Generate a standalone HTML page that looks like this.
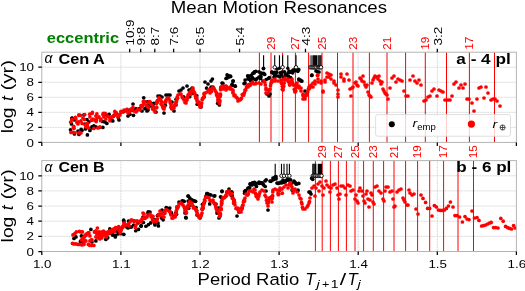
<!DOCTYPE html>
<html><head><meta charset="utf-8"><style>
html,body{margin:0;padding:0;background:#fff;}
body{width:525px;height:291px;overflow:hidden;font-family:"Liberation Sans", sans-serif;}
svg{display:block;will-change:transform;}
</style></head><body>
<svg width="525" height="291" viewBox="0 0 525 291" font-family='"Liberation Sans", sans-serif'>
<rect width="525" height="291" fill="#fff"/>
<text x="278.9" y="13.3" font-size="17" text-anchor="middle" textLength="216.16" lengthAdjust="spacingAndGlyphs">Mean Motion Resonances</text>
<text x="46.8" y="43.2" font-size="14" font-weight="bold" fill="#008000" textLength="72.25" lengthAdjust="spacingAndGlyphs">eccentric</text>
<path d="M41.8 127.37H516.4M41.8 112.33H516.4M41.8 97.3H516.4M41.8 82.27H516.4M41.8 67.23H516.4M120.9 52.2V142.4M200 52.2V142.4M279.1 52.2V142.4M358.2 52.2V142.4M437.3 52.2V142.4" stroke="#d4d4d4" stroke-width="1" stroke-dasharray="1 0.6" fill="none"/>
<path d="M259.4 52.2V142.4M271 52.2V142.4M282.6 52.2V142.4M295.4 52.2V142.4M308.6 52.2V142.4M322 52.2V142.4M337.5 52.2V142.4M353 52.2V142.4M369.4 52.2V142.4M387 52.2V142.4M405.6 52.2V142.4M425.3 52.2V142.4M446.5 52.2V142.4M469.4 52.2V142.4M494.5 52.2V142.4" stroke="#ff0000" stroke-width="1" fill="none"/>
<g fill="#000"><circle cx="71.98" cy="118.41" r="1.85"/><circle cx="83.93" cy="114.92" r="1.85"/><circle cx="71.98" cy="117.98" r="1.85"/><circle cx="71.48" cy="123.96" r="1.85"/><circle cx="74.47" cy="133.92" r="1.85"/><circle cx="78.95" cy="134.42" r="1.85"/><circle cx="81.94" cy="130.43" r="1.85"/><circle cx="85.42" cy="128.94" r="1.85"/><circle cx="87.41" cy="134.92" r="1.85"/><circle cx="89.9" cy="130.43" r="1.85"/><circle cx="86.92" cy="119.48" r="1.85"/><circle cx="91.9" cy="126.95" r="1.85"/><circle cx="93.89" cy="125.95" r="1.85"/><circle cx="95.88" cy="126.95" r="1.85"/><circle cx="102.85" cy="127.45" r="1.85"/><circle cx="104.84" cy="121.97" r="1.85"/><circle cx="106.84" cy="123.46" r="1.85"/><circle cx="110.82" cy="120.47" r="1.85"/><circle cx="112.81" cy="120.97" r="1.85"/><circle cx="119" cy="120" r="1.85"/><circle cx="128" cy="116" r="1.85"/><circle cx="133" cy="104" r="1.85"/><circle cx="136" cy="109" r="1.85"/><circle cx="142" cy="111" r="1.85"/><circle cx="147" cy="111" r="1.85"/><circle cx="148" cy="110" r="1.85"/><circle cx="153" cy="106" r="1.85"/><circle cx="156" cy="112" r="1.85"/><circle cx="158" cy="96" r="1.85"/><circle cx="160" cy="96" r="1.85"/><circle cx="162" cy="97" r="1.85"/><circle cx="164" cy="113" r="1.85"/><circle cx="166" cy="95" r="1.85"/><circle cx="168" cy="95" r="1.85"/><circle cx="170" cy="95" r="1.85"/><circle cx="172" cy="102" r="1.85"/><circle cx="174" cy="111" r="1.85"/><circle cx="176" cy="105" r="1.85"/><circle cx="179" cy="91" r="1.85"/><circle cx="181" cy="90" r="1.85"/><circle cx="183" cy="88" r="1.85"/><circle cx="187" cy="86" r="1.85"/><circle cx="189" cy="90" r="1.85"/><circle cx="190" cy="90" r="1.85"/><circle cx="192" cy="88" r="1.85"/><circle cx="201" cy="107" r="1.85"/><circle cx="205" cy="82" r="1.85"/><circle cx="208" cy="84" r="1.85"/><circle cx="211" cy="81" r="1.85"/><circle cx="212.4" cy="79" r="1.85"/><circle cx="213" cy="87" r="1.85"/><circle cx="219.4" cy="105" r="1.85"/><circle cx="222" cy="83" r="1.85"/><circle cx="227" cy="78" r="1.85"/><circle cx="228" cy="76" r="1.85"/><circle cx="229" cy="77" r="1.85"/><circle cx="230" cy="76" r="1.85"/><circle cx="233" cy="81" r="1.85"/><circle cx="235" cy="86" r="1.85"/><circle cx="245" cy="83" r="1.85"/><circle cx="248" cy="79" r="1.85"/><circle cx="249" cy="76" r="1.85"/><circle cx="251" cy="80" r="1.85"/><circle cx="254" cy="73" r="1.85"/><circle cx="259" cy="77" r="1.85"/><circle cx="261" cy="73" r="1.85"/><circle cx="263" cy="81" r="1.85"/><circle cx="263.4" cy="68.6" r="1.85"/><circle cx="267" cy="94" r="1.85"/><circle cx="269" cy="96" r="1.85"/><circle cx="270" cy="94" r="1.85"/><circle cx="272" cy="72" r="1.85"/><circle cx="274" cy="77" r="1.85"/><circle cx="275" cy="75" r="1.85"/><circle cx="277" cy="69" r="1.85"/><circle cx="278" cy="76" r="1.85"/><circle cx="280" cy="77" r="1.85"/><circle cx="282" cy="72" r="1.85"/><circle cx="284" cy="77" r="1.85"/><circle cx="286" cy="75" r="1.85"/><circle cx="288" cy="73" r="1.85"/><circle cx="289" cy="71" r="1.85"/><circle cx="291" cy="72" r="1.85"/><circle cx="293" cy="70" r="1.85"/><circle cx="295" cy="69" r="1.85"/><circle cx="299" cy="80" r="1.85"/><circle cx="301" cy="81" r="1.85"/><circle cx="305" cy="91" r="1.85"/><circle cx="306" cy="95" r="1.85"/><circle cx="307" cy="93" r="1.85"/><circle cx="312" cy="75" r="1.85"/><circle cx="316" cy="71" r="1.85"/><circle cx="319" cy="72" r="1.85"/><circle cx="197.19" cy="104.26" r="1.85"/><circle cx="231.81" cy="85.45" r="1.85"/><circle cx="150.38" cy="105.88" r="1.85"/><circle cx="147.39" cy="101.78" r="1.85"/><circle cx="183.64" cy="96.91" r="1.85"/><circle cx="196.82" cy="95.86" r="1.85"/><circle cx="217.71" cy="103.36" r="1.85"/><circle cx="143.73" cy="97.81" r="1.85"/><circle cx="171.14" cy="106.95" r="1.85"/><circle cx="165.24" cy="105.31" r="1.85"/><circle cx="192.85" cy="93.39" r="1.85"/><circle cx="176.06" cy="99.28" r="1.85"/><circle cx="145.93" cy="108.01" r="1.85"/><circle cx="189.7" cy="96.64" r="1.85"/><circle cx="129.87" cy="114.33" r="1.85"/><circle cx="222.94" cy="83.41" r="1.85"/><circle cx="204.02" cy="96.95" r="1.85"/><circle cx="206.56" cy="88.04" r="1.85"/><circle cx="132.6" cy="110.22" r="1.85"/><circle cx="211.16" cy="87.17" r="1.85"/><circle cx="227.1" cy="74.9" r="1.85"/><circle cx="228.6" cy="75.9" r="1.85"/><circle cx="230.7" cy="76.4" r="1.85"/><circle cx="226" cy="78.5" r="1.85"/><circle cx="233.2" cy="81.1" r="1.85"/><circle cx="232.2" cy="84.2" r="1.85"/><circle cx="235.3" cy="86.2" r="1.85"/><circle cx="245.1" cy="80" r="1.85"/><circle cx="244.1" cy="83.6" r="1.85"/><circle cx="247.7" cy="75.9" r="1.85"/><circle cx="248.7" cy="77.5" r="1.85"/><circle cx="249.7" cy="79.5" r="1.85"/><circle cx="250.8" cy="81.1" r="1.85"/><circle cx="251.3" cy="75.4" r="1.85"/><circle cx="252.8" cy="73.3" r="1.85"/><circle cx="254.4" cy="71.8" r="1.85"/><circle cx="255.9" cy="71.3" r="1.85"/><circle cx="252.3" cy="77.5" r="1.85"/><circle cx="253.9" cy="79" r="1.85"/><circle cx="255.9" cy="80" r="1.85"/><circle cx="257" cy="78.5" r="1.85"/><circle cx="259" cy="71.8" r="1.85"/><circle cx="261.6" cy="73.3" r="1.85"/><circle cx="263.7" cy="73.3" r="1.85"/><circle cx="264.7" cy="74.4" r="1.85"/><circle cx="261" cy="76.4" r="1.85"/><circle cx="260.6" cy="78.5" r="1.85"/><circle cx="266.2" cy="79.5" r="1.85"/><circle cx="268.3" cy="78.5" r="1.85"/><circle cx="269.3" cy="77.5" r="1.85"/><circle cx="271.9" cy="72.3" r="1.85"/><circle cx="273.5" cy="73.3" r="1.85"/><circle cx="275.5" cy="75.4" r="1.85"/><circle cx="274.6" cy="72.3" r="1.85"/><circle cx="276.6" cy="72.3" r="1.85"/><circle cx="275.6" cy="75.9" r="1.85"/><circle cx="280.2" cy="72.8" r="1.85"/><circle cx="281.3" cy="74.9" r="1.85"/><circle cx="284.4" cy="71.8" r="1.85"/><circle cx="285.4" cy="74.4" r="1.85"/><circle cx="286.4" cy="75.4" r="1.85"/><circle cx="289.5" cy="72.3" r="1.85"/><circle cx="291" cy="71.8" r="1.85"/><circle cx="292.6" cy="71.3" r="1.85"/><circle cx="294.2" cy="70.8" r="1.85"/><circle cx="295.7" cy="70.2" r="1.85"/><circle cx="297.3" cy="69.7" r="1.85"/><circle cx="298.8" cy="69.7" r="1.85"/><circle cx="292.6" cy="72.8" r="1.85"/><circle cx="297.8" cy="71.3" r="1.85"/><circle cx="288.5" cy="76.4" r="1.85"/><circle cx="290.6" cy="77.5" r="1.85"/><circle cx="298.8" cy="79" r="1.85"/><circle cx="300.4" cy="80" r="1.85"/><circle cx="301.9" cy="81.1" r="1.85"/><circle cx="311.7" cy="75.4" r="1.85"/><circle cx="317.4" cy="71.8" r="1.85"/><circle cx="70.52" cy="129.77" r="1.85"/><circle cx="74.55" cy="119.9" r="1.85"/><circle cx="77.97" cy="131.1" r="1.85"/><circle cx="81.11" cy="129.25" r="1.85"/><circle cx="84.93" cy="124.01" r="1.85"/><circle cx="88.83" cy="121.95" r="1.85"/><circle cx="92.01" cy="127.82" r="1.85"/><circle cx="95.98" cy="120.52" r="1.85"/><circle cx="99.33" cy="127.52" r="1.85"/><circle cx="102.64" cy="121.47" r="1.85"/><circle cx="105.85" cy="114.55" r="1.85"/><circle cx="109.13" cy="114.27" r="1.85"/><circle cx="113.24" cy="116.31" r="1.85"/><circle cx="116.16" cy="113.16" r="1.85"/><circle cx="118.34" cy="117.83" r="1.85"/><circle cx="121.17" cy="111.95" r="1.85"/><circle cx="123.74" cy="111.47" r="1.85"/><circle cx="126.96" cy="109.72" r="1.85"/><circle cx="129.95" cy="110.04" r="1.85"/><circle cx="133.46" cy="115.36" r="1.85"/><circle cx="136.05" cy="108.73" r="1.85"/><circle cx="139.47" cy="108.67" r="1.85"/><circle cx="141.86" cy="105.51" r="1.85"/><circle cx="144.88" cy="108.67" r="1.85"/><circle cx="148" cy="105.69" r="1.85"/><circle cx="151" cy="103.29" r="1.85"/><circle cx="153.76" cy="103.28" r="1.85"/><circle cx="156.9" cy="102.12" r="1.85"/></g>
<g fill="#ff0000"><circle cx="78.95" cy="114.92" r="1.85"/><circle cx="92.39" cy="112.43" r="1.85"/><circle cx="96.88" cy="113.92" r="1.85"/><circle cx="103.35" cy="113.43" r="1.85"/><circle cx="114.8" cy="111.43" r="1.85"/><circle cx="71.98" cy="119.4" r="1.85"/><circle cx="70.98" cy="132.43" r="1.85"/><circle cx="72.97" cy="132.43" r="1.85"/><circle cx="74.96" cy="132.73" r="1.85"/><circle cx="78.95" cy="132.92" r="1.85"/><circle cx="80.94" cy="132.92" r="1.85"/><circle cx="71.98" cy="119.98" r="1.85"/><circle cx="73.47" cy="127.45" r="1.85"/><circle cx="73.97" cy="128.44" r="1.85"/><circle cx="75.96" cy="118.98" r="1.85"/><circle cx="76.96" cy="122.47" r="1.85"/><circle cx="77.95" cy="123.96" r="1.85"/><circle cx="78.95" cy="115.49" r="1.85"/><circle cx="80.94" cy="120.97" r="1.85"/><circle cx="82.93" cy="117.98" r="1.85"/><circle cx="84.43" cy="119.48" r="1.85"/><circle cx="85.42" cy="124.96" r="1.85"/><circle cx="85.92" cy="126.95" r="1.85"/><circle cx="87.41" cy="125.95" r="1.85"/><circle cx="88.41" cy="127.94" r="1.85"/><circle cx="89.9" cy="116.99" r="1.85"/><circle cx="91.4" cy="120.47" r="1.85"/><circle cx="92.89" cy="118.98" r="1.85"/><circle cx="93.89" cy="128.44" r="1.85"/><circle cx="95.88" cy="115.99" r="1.85"/><circle cx="96.88" cy="118.48" r="1.85"/><circle cx="97.87" cy="127.94" r="1.85"/><circle cx="99.86" cy="126.95" r="1.85"/><circle cx="100.86" cy="118.98" r="1.85"/><circle cx="103.85" cy="116.99" r="1.85"/><circle cx="105.84" cy="118.98" r="1.85"/><circle cx="107.83" cy="115.99" r="1.85"/><circle cx="109.82" cy="117.98" r="1.85"/><circle cx="111.82" cy="116.99" r="1.85"/><circle cx="113.81" cy="115.49" r="1.85"/><circle cx="115.8" cy="115" r="1.85"/><circle cx="313" cy="83" r="1.85"/><circle cx="313" cy="87" r="1.85"/><circle cx="315" cy="81" r="1.85"/><circle cx="315" cy="84" r="1.85"/><circle cx="318" cy="75" r="1.85"/><circle cx="318" cy="79" r="1.85"/><circle cx="318" cy="82" r="1.85"/><circle cx="321" cy="81" r="1.85"/><circle cx="321" cy="83" r="1.85"/><circle cx="323" cy="91" r="1.85"/><circle cx="323" cy="92" r="1.85"/><circle cx="325" cy="80" r="1.85"/><circle cx="325" cy="82" r="1.85"/><circle cx="327" cy="73" r="1.85"/><circle cx="327" cy="77" r="1.85"/><circle cx="329" cy="74" r="1.85"/><circle cx="329" cy="77" r="1.85"/><circle cx="331" cy="75" r="1.85"/><circle cx="331" cy="79" r="1.85"/><circle cx="334" cy="81" r="1.85"/><circle cx="334" cy="83" r="1.85"/><circle cx="336" cy="85" r="1.85"/><circle cx="338" cy="90" r="1.85"/><circle cx="338" cy="94" r="1.85"/><circle cx="338" cy="97" r="1.85"/><circle cx="341" cy="74" r="1.85"/><circle cx="341" cy="77" r="1.85"/><circle cx="344" cy="79" r="1.85"/><circle cx="344" cy="81" r="1.85"/><circle cx="347" cy="74" r="1.85"/><circle cx="349" cy="80" r="1.85"/><circle cx="350" cy="89" r="1.85"/><circle cx="351" cy="96" r="1.85"/><circle cx="352" cy="88" r="1.85"/><circle cx="353" cy="87" r="1.85"/><circle cx="355" cy="83" r="1.85"/><circle cx="356" cy="82" r="1.85"/><circle cx="357" cy="85" r="1.85"/><circle cx="358" cy="86" r="1.85"/><circle cx="360" cy="78" r="1.85"/><circle cx="361" cy="79" r="1.85"/><circle cx="362" cy="81" r="1.85"/><circle cx="363" cy="76" r="1.85"/><circle cx="364" cy="82" r="1.85"/><circle cx="365" cy="85" r="1.85"/><circle cx="366" cy="87" r="1.85"/><circle cx="367" cy="85" r="1.85"/><circle cx="368" cy="92" r="1.85"/><circle cx="369" cy="95" r="1.85"/><circle cx="370" cy="96" r="1.85"/><circle cx="371" cy="97" r="1.85"/><circle cx="372" cy="83" r="1.85"/><circle cx="373" cy="80" r="1.85"/><circle cx="374" cy="78" r="1.85"/><circle cx="375" cy="76" r="1.85"/><circle cx="377" cy="77" r="1.85"/><circle cx="378" cy="79" r="1.85"/><circle cx="379" cy="76" r="1.85"/><circle cx="380" cy="81" r="1.85"/><circle cx="381" cy="84" r="1.85"/><circle cx="382" cy="82" r="1.85"/><circle cx="383" cy="89" r="1.85"/><circle cx="384" cy="91" r="1.85"/><circle cx="385" cy="93" r="1.85"/><circle cx="386" cy="94" r="1.85"/><circle cx="387" cy="95" r="1.85"/><circle cx="388" cy="99" r="1.85"/><circle cx="390" cy="88" r="1.85"/><circle cx="392" cy="78" r="1.85"/><circle cx="394" cy="76" r="1.85"/><circle cx="396" cy="82" r="1.85"/><circle cx="398" cy="79" r="1.85"/><circle cx="400" cy="80" r="1.85"/><circle cx="402" cy="81" r="1.85"/><circle cx="404" cy="91" r="1.85"/><circle cx="406" cy="96" r="1.85"/><circle cx="408" cy="96" r="1.85"/><circle cx="410" cy="80" r="1.85"/><circle cx="413" cy="76" r="1.85"/><circle cx="415" cy="81" r="1.85"/><circle cx="417" cy="83" r="1.85"/><circle cx="419" cy="80" r="1.85"/><circle cx="421" cy="85" r="1.85"/><circle cx="424" cy="101" r="1.85"/><circle cx="426" cy="100" r="1.85"/><circle cx="428" cy="97" r="1.85"/><circle cx="430" cy="96" r="1.85"/><circle cx="432" cy="91" r="1.85"/><circle cx="434" cy="89" r="1.85"/><circle cx="437" cy="96" r="1.85"/><circle cx="439" cy="90" r="1.85"/><circle cx="441" cy="91" r="1.85"/><circle cx="443" cy="92" r="1.85"/><circle cx="445" cy="100" r="1.85"/><circle cx="448" cy="100" r="1.85"/><circle cx="450" cy="100" r="1.85"/><circle cx="452" cy="96" r="1.85"/><circle cx="454" cy="84" r="1.85"/><circle cx="456" cy="82" r="1.85"/><circle cx="459" cy="88" r="1.85"/><circle cx="461" cy="85" r="1.85"/><circle cx="463" cy="88" r="1.85"/><circle cx="465" cy="84" r="1.85"/><circle cx="467" cy="99" r="1.85"/><circle cx="469" cy="99" r="1.85"/><circle cx="472" cy="103" r="1.85"/><circle cx="474" cy="111" r="1.85"/><circle cx="477" cy="99" r="1.85"/><circle cx="479" cy="88" r="1.85"/><circle cx="481" cy="87" r="1.85"/><circle cx="484" cy="98" r="1.85"/><circle cx="486" cy="87" r="1.85"/><circle cx="488" cy="93" r="1.85"/><circle cx="491" cy="100" r="1.85"/><circle cx="493" cy="99" r="1.85"/><circle cx="495" cy="99" r="1.85"/><circle cx="497" cy="101" r="1.85"/><circle cx="500" cy="106" r="1.85"/><circle cx="118" cy="117" r="1.85"/><circle cx="120" cy="115" r="1.85"/><circle cx="122" cy="112" r="1.85"/><circle cx="124" cy="110" r="1.85"/><circle cx="126" cy="111" r="1.85"/><circle cx="128" cy="113" r="1.85"/><circle cx="130" cy="111" r="1.85"/><circle cx="132" cy="109" r="1.85"/><circle cx="134" cy="111" r="1.85"/><circle cx="136" cy="112" r="1.85"/><circle cx="138" cy="109" r="1.85"/><circle cx="140" cy="110" r="1.85"/><circle cx="142" cy="107" r="1.85"/><circle cx="144" cy="103" r="1.85"/><circle cx="146" cy="105" r="1.85"/><circle cx="148" cy="107" r="1.85"/><circle cx="150" cy="102" r="1.85"/><circle cx="152" cy="105" r="1.85"/><circle cx="154" cy="110" r="1.85"/><circle cx="156" cy="108" r="1.85"/><circle cx="158" cy="101" r="1.85"/><circle cx="160" cy="99" r="1.85"/><circle cx="162" cy="105" r="1.85"/><circle cx="164" cy="109" r="1.85"/><circle cx="166" cy="100" r="1.85"/><circle cx="168" cy="98" r="1.85"/><circle cx="170" cy="101" r="1.85"/><circle cx="172" cy="109" r="1.85"/><circle cx="174" cy="108" r="1.85"/><circle cx="176" cy="102" r="1.85"/><circle cx="178" cy="95" r="1.85"/><circle cx="180" cy="94" r="1.85"/><circle cx="182" cy="97" r="1.85"/><circle cx="184" cy="100" r="1.85"/><circle cx="186" cy="103" r="1.85"/><circle cx="188" cy="95" r="1.85"/><circle cx="190" cy="92" r="1.85"/><circle cx="190" cy="94" r="1.85"/><circle cx="193" cy="88" r="1.85"/><circle cx="193" cy="90" r="1.85"/><circle cx="195" cy="94" r="1.85"/><circle cx="197" cy="99" r="1.85"/><circle cx="197" cy="101" r="1.85"/><circle cx="200" cy="105" r="1.85"/><circle cx="200" cy="107" r="1.85"/><circle cx="203" cy="98" r="1.85"/><circle cx="205" cy="93" r="1.85"/><circle cx="207" cy="92" r="1.85"/><circle cx="210" cy="90" r="1.85"/><circle cx="210" cy="93" r="1.85"/><circle cx="213" cy="88" r="1.85"/><circle cx="216" cy="92" r="1.85"/><circle cx="218" cy="98" r="1.85"/><circle cx="218" cy="101" r="1.85"/><circle cx="219.4" cy="103" r="1.85"/><circle cx="221" cy="87" r="1.85"/><circle cx="223" cy="86" r="1.85"/><circle cx="223" cy="89" r="1.85"/><circle cx="226" cy="86" r="1.85"/><circle cx="226" cy="90" r="1.85"/><circle cx="228" cy="88" r="1.85"/><circle cx="230" cy="87" r="1.85"/><circle cx="230" cy="89" r="1.85"/><circle cx="233" cy="90" r="1.85"/><circle cx="233" cy="93" r="1.85"/><circle cx="235" cy="95" r="1.85"/><circle cx="238" cy="99" r="1.85"/><circle cx="238" cy="101" r="1.85"/><circle cx="240" cy="100" r="1.85"/><circle cx="243" cy="95" r="1.85"/><circle cx="245" cy="90" r="1.85"/><circle cx="248" cy="85" r="1.85"/><circle cx="248" cy="87" r="1.85"/><circle cx="251" cy="84" r="1.85"/><circle cx="254" cy="84" r="1.85"/><circle cx="256" cy="83.6" r="1.85"/><circle cx="119" cy="114.93" r="1.85"/><circle cx="121" cy="111.38" r="1.85"/><circle cx="123" cy="111.92" r="1.85"/><circle cx="127" cy="109.4" r="1.85"/><circle cx="129" cy="112.22" r="1.85"/><circle cx="131" cy="109.18" r="1.85"/><circle cx="133" cy="107.31" r="1.85"/><circle cx="137" cy="110.55" r="1.85"/><circle cx="141" cy="105.69" r="1.85"/><circle cx="142.67" cy="105.26" r="1.85"/><circle cx="143.33" cy="101.72" r="1.85"/><circle cx="145" cy="101.51" r="1.85"/><circle cx="147" cy="105.54" r="1.85"/><circle cx="148.5" cy="107.74" r="1.85"/><circle cx="149" cy="102.21" r="1.85"/><circle cx="149.5" cy="101.57" r="1.85"/><circle cx="151" cy="104.27" r="1.85"/><circle cx="152.5" cy="108.97" r="1.85"/><circle cx="153" cy="107.97" r="1.85"/><circle cx="153.5" cy="108.12" r="1.85"/><circle cx="155" cy="111.9" r="1.85"/><circle cx="156.4" cy="103.84" r="1.85"/><circle cx="156.8" cy="107.38" r="1.85"/><circle cx="157.2" cy="102.52" r="1.85"/><circle cx="157.6" cy="100.24" r="1.85"/><circle cx="159" cy="97.68" r="1.85"/><circle cx="160.5" cy="99.34" r="1.85"/><circle cx="161" cy="103.92" r="1.85"/><circle cx="161.5" cy="101.56" r="1.85"/><circle cx="162.67" cy="106.83" r="1.85"/><circle cx="163.33" cy="108.51" r="1.85"/><circle cx="164.29" cy="106.94" r="1.85"/><circle cx="164.57" cy="106.72" r="1.85"/><circle cx="164.86" cy="102.48" r="1.85"/><circle cx="165.14" cy="102.18" r="1.85"/><circle cx="165.43" cy="101.45" r="1.85"/><circle cx="165.71" cy="101.97" r="1.85"/><circle cx="167" cy="98.72" r="1.85"/><circle cx="169" cy="98.79" r="1.85"/><circle cx="170.33" cy="102.66" r="1.85"/><circle cx="170.67" cy="103.49" r="1.85"/><circle cx="171" cy="104.24" r="1.85"/><circle cx="171.33" cy="107.45" r="1.85"/><circle cx="171.67" cy="108.42" r="1.85"/><circle cx="174.5" cy="105.53" r="1.85"/><circle cx="175" cy="105.28" r="1.85"/><circle cx="175.5" cy="103.6" r="1.85"/><circle cx="176.4" cy="102.03" r="1.85"/><circle cx="176.8" cy="100.07" r="1.85"/><circle cx="177.2" cy="96.99" r="1.85"/><circle cx="177.6" cy="98.22" r="1.85"/><circle cx="181" cy="94.05" r="1.85"/><circle cx="183" cy="98.19" r="1.85"/><circle cx="185" cy="102.48" r="1.85"/><circle cx="186.33" cy="100.34" r="1.85"/><circle cx="186.67" cy="100.29" r="1.85"/><circle cx="187" cy="97.25" r="1.85"/><circle cx="187.33" cy="98.31" r="1.85"/><circle cx="187.67" cy="97.34" r="1.85"/><circle cx="189" cy="93.78" r="1.85"/><circle cx="190.6" cy="94.23" r="1.85"/><circle cx="191.2" cy="90.89" r="1.85"/><circle cx="191.8" cy="91.14" r="1.85"/><circle cx="192.4" cy="89.56" r="1.85"/><circle cx="193.67" cy="91.64" r="1.85"/><circle cx="194.33" cy="92.5" r="1.85"/><circle cx="195.5" cy="96.54" r="1.85"/><circle cx="196" cy="98.19" r="1.85"/><circle cx="196.5" cy="97.65" r="1.85"/><circle cx="198" cy="102.96" r="1.85"/><circle cx="199" cy="102" r="1.85"/><circle cx="200.43" cy="106.48" r="1.85"/><circle cx="200.86" cy="104.99" r="1.85"/><circle cx="201.29" cy="105.02" r="1.85"/><circle cx="201.71" cy="103.08" r="1.85"/><circle cx="202.14" cy="99.75" r="1.85"/><circle cx="202.57" cy="98.85" r="1.85"/><circle cx="203.5" cy="97.39" r="1.85"/><circle cx="204" cy="93.69" r="1.85"/><circle cx="204.5" cy="94.1" r="1.85"/><circle cx="208.5" cy="89.74" r="1.85"/><circle cx="210" cy="90.04" r="1.85"/><circle cx="210.75" cy="90.07" r="1.85"/><circle cx="211.5" cy="91.52" r="1.85"/><circle cx="212.25" cy="87.84" r="1.85"/><circle cx="214" cy="88.37" r="1.85"/><circle cx="215" cy="90.25" r="1.85"/><circle cx="216.5" cy="94.91" r="1.85"/><circle cx="217" cy="93.41" r="1.85"/><circle cx="217.5" cy="96.31" r="1.85"/><circle cx="218" cy="99.69" r="1.85"/><circle cx="219.53" cy="103.12" r="1.85"/><circle cx="219.67" cy="101.55" r="1.85"/><circle cx="219.8" cy="100.38" r="1.85"/><circle cx="219.93" cy="96.82" r="1.85"/><circle cx="220.07" cy="96.01" r="1.85"/><circle cx="220.2" cy="94.46" r="1.85"/><circle cx="220.33" cy="95.13" r="1.85"/><circle cx="220.47" cy="94.07" r="1.85"/><circle cx="220.6" cy="89.67" r="1.85"/><circle cx="220.73" cy="88.44" r="1.85"/><circle cx="220.87" cy="87.31" r="1.85"/><circle cx="223" cy="86.49" r="1.85"/><circle cx="224" cy="87.94" r="1.85"/><circle cx="225" cy="87.34" r="1.85"/><circle cx="226" cy="86.43" r="1.85"/><circle cx="226" cy="86.78" r="1.85"/><circle cx="227" cy="88.69" r="1.85"/><circle cx="231.5" cy="89" r="1.85"/><circle cx="233" cy="91.75" r="1.85"/><circle cx="234" cy="95.72" r="1.85"/><circle cx="236" cy="97.06" r="1.85"/><circle cx="237" cy="97.73" r="1.85"/><circle cx="240.75" cy="99.2" r="1.85"/><circle cx="241.5" cy="98.17" r="1.85"/><circle cx="242.25" cy="94.56" r="1.85"/><circle cx="243.5" cy="95.27" r="1.85"/><circle cx="244" cy="93.56" r="1.85"/><circle cx="244.5" cy="92.67" r="1.85"/><circle cx="245.75" cy="89.88" r="1.85"/><circle cx="246.5" cy="87.09" r="1.85"/><circle cx="247.25" cy="85.87" r="1.85"/><circle cx="249" cy="84.49" r="1.85"/><circle cx="250" cy="85.51" r="1.85"/><circle cx="252.5" cy="82.34" r="1.85"/><circle cx="259" cy="83" r="1.85"/><circle cx="261" cy="84" r="1.85"/><circle cx="264" cy="81" r="1.85"/><circle cx="266" cy="88" r="1.85"/><circle cx="266" cy="93" r="1.85"/><circle cx="268" cy="90" r="1.85"/><circle cx="268" cy="93" r="1.85"/><circle cx="270" cy="89" r="1.85"/><circle cx="272" cy="80" r="1.85"/><circle cx="272" cy="82" r="1.85"/><circle cx="275" cy="79" r="1.85"/><circle cx="275" cy="81" r="1.85"/><circle cx="278" cy="81" r="1.85"/><circle cx="281" cy="80" r="1.85"/><circle cx="281" cy="82" r="1.85"/><circle cx="283" cy="89" r="1.85"/><circle cx="283" cy="90" r="1.85"/><circle cx="285" cy="78" r="1.85"/><circle cx="285" cy="80" r="1.85"/><circle cx="288" cy="79" r="1.85"/><circle cx="288" cy="81" r="1.85"/><circle cx="290" cy="85" r="1.85"/><circle cx="292" cy="79" r="1.85"/><circle cx="292" cy="81" r="1.85"/><circle cx="295" cy="91" r="1.85"/><circle cx="295" cy="92" r="1.85"/><circle cx="297" cy="83" r="1.85"/><circle cx="299" cy="86" r="1.85"/><circle cx="299" cy="88" r="1.85"/><circle cx="301" cy="88" r="1.85"/><circle cx="301" cy="91" r="1.85"/><circle cx="303" cy="94" r="1.85"/><circle cx="303" cy="99" r="1.85"/><circle cx="304" cy="97" r="1.85"/><circle cx="305" cy="97" r="1.85"/><circle cx="305" cy="99" r="1.85"/><circle cx="307" cy="93" r="1.85"/><circle cx="307" cy="95" r="1.85"/><circle cx="309" cy="87" r="1.85"/><circle cx="309" cy="89" r="1.85"/><circle cx="311" cy="85" r="1.85"/><circle cx="311" cy="86" r="1.85"/><circle cx="264.67" cy="82.29" r="1.85"/><circle cx="265.33" cy="84.97" r="1.85"/><circle cx="266" cy="89.69" r="1.85"/><circle cx="269" cy="90.62" r="1.85"/><circle cx="270.5" cy="85.68" r="1.85"/><circle cx="271" cy="83.3" r="1.85"/><circle cx="271.5" cy="81.41" r="1.85"/><circle cx="281.67" cy="83.38" r="1.85"/><circle cx="282.33" cy="86.34" r="1.85"/><circle cx="283.4" cy="86.46" r="1.85"/><circle cx="283.8" cy="86.1" r="1.85"/><circle cx="284.2" cy="83.07" r="1.85"/><circle cx="284.6" cy="79.56" r="1.85"/><circle cx="289" cy="82.41" r="1.85"/><circle cx="291" cy="81.63" r="1.85"/><circle cx="292.75" cy="83.17" r="1.85"/><circle cx="293.5" cy="85.09" r="1.85"/><circle cx="294.25" cy="89.34" r="1.85"/><circle cx="295.5" cy="90.93" r="1.85"/><circle cx="296" cy="87.42" r="1.85"/><circle cx="296.5" cy="85.21" r="1.85"/><circle cx="303" cy="95.51" r="1.85"/><circle cx="306" cy="95.05" r="1.85"/><circle cx="307.67" cy="91.96" r="1.85"/><circle cx="308.33" cy="89.1" r="1.85"/><circle cx="310" cy="87.79" r="1.85"/><circle cx="282.3" cy="89.3" r="1.85"/><circle cx="289.5" cy="84.7" r="1.85"/><circle cx="295.7" cy="90.9" r="1.85"/><circle cx="317.4" cy="75.4" r="1.85"/><circle cx="70.63" cy="122.01" r="1.85"/><circle cx="73.71" cy="126.25" r="1.85"/><circle cx="75.36" cy="117.33" r="1.85"/><circle cx="78.32" cy="121.88" r="1.85"/><circle cx="80.4" cy="115.35" r="1.85"/><circle cx="82.06" cy="123.45" r="1.85"/><circle cx="84.73" cy="114.58" r="1.85"/><circle cx="87.54" cy="123.44" r="1.85"/><circle cx="89.7" cy="114.13" r="1.85"/><circle cx="92.06" cy="113.5" r="1.85"/><circle cx="94.36" cy="120.07" r="1.85"/><circle cx="96.14" cy="121.54" r="1.85"/><circle cx="99.03" cy="116.9" r="1.85"/><circle cx="100.53" cy="120.75" r="1.85"/><circle cx="102.94" cy="114.54" r="1.85"/><circle cx="105.16" cy="113.35" r="1.85"/><circle cx="107.5" cy="116.23" r="1.85"/><circle cx="109.91" cy="120.68" r="1.85"/><circle cx="112.19" cy="116.95" r="1.85"/><circle cx="114.38" cy="114.73" r="1.85"/><circle cx="116.52" cy="113.19" r="1.85"/></g>
<path d="M263.6 55.3V67.3" stroke="#000" stroke-width="1.1"/>
<path d="M274.7 55.3V67.3" stroke="#000" stroke-width="1.1"/>
<path d="M279.5 55.3V67.3" stroke="#000" stroke-width="1.1"/>
<path d="M282.6 55.3V67.3" stroke="#000" stroke-width="1.1"/>
<path d="M287.8 55.3V67.3" stroke="#000" stroke-width="1.1"/>
<path d="M296 55.3V67.3" stroke="#000" stroke-width="1.1"/>
<path d="M310.3 55.3V67.3" stroke="#000" stroke-width="0.6"/>
<path d="M311.5 55.3V67.3" stroke="#000" stroke-width="0.6"/>
<path d="M312.6 55.3V67.3" stroke="#000" stroke-width="0.7"/>
<path d="M313.6 55.3V67.3" stroke="#000" stroke-width="1.1"/>
<path d="M314.6 55.3V67.3" stroke="#000" stroke-width="1.1"/>
<path d="M315.6 55.3V67.3" stroke="#000" stroke-width="1.1"/>
<path d="M316.5 55.3V67.3" stroke="#000" stroke-width="1.1"/>
<path d="M318.1 55.3V67.3" stroke="#000" stroke-width="1.1"/>
<path d="M319.1 55.3V67.3" stroke="#000" stroke-width="1.1"/>
<path d="M320.1 55.3V67.3" stroke="#000" stroke-width="1.1"/>
<path d="M321 55.3V67.3" stroke="#000" stroke-width="1.1"/>
<circle cx="263.6" cy="68.2" r="1.7" fill="#000"/>
<circle cx="274.7" cy="67.3" r="1.75" fill="#fff" stroke="#000" stroke-width="0.9"/>
<circle cx="279.5" cy="68.2" r="1.7" fill="#000"/>
<circle cx="282.6" cy="67.3" r="1.75" fill="#fff" stroke="#000" stroke-width="0.9"/>
<circle cx="287.8" cy="68.2" r="1.7" fill="#000"/>
<circle cx="296" cy="67.3" r="1.75" fill="#fff" stroke="#000" stroke-width="0.9"/>
<circle cx="310.3" cy="67.3" r="1.75" fill="#fff" stroke="#000" stroke-width="0.9"/>
<circle cx="311.5" cy="67.3" r="1.75" fill="#fff" stroke="#000" stroke-width="0.9"/>
<circle cx="312.6" cy="67.3" r="1.75" fill="#fff" stroke="#000" stroke-width="0.9"/>
<circle cx="313.6" cy="67.3" r="1.75" fill="#fff" stroke="#000" stroke-width="0.9"/>
<circle cx="314.6" cy="67.3" r="1.75" fill="#fff" stroke="#000" stroke-width="0.9"/>
<circle cx="315.6" cy="67.3" r="1.75" fill="#fff" stroke="#000" stroke-width="0.9"/>
<circle cx="316.5" cy="67.3" r="1.75" fill="#fff" stroke="#000" stroke-width="0.9"/>
<circle cx="318.1" cy="67.3" r="1.75" fill="#fff" stroke="#000" stroke-width="0.9"/>
<circle cx="319.1" cy="67.3" r="1.75" fill="#fff" stroke="#000" stroke-width="0.9"/>
<circle cx="320.1" cy="67.3" r="1.75" fill="#fff" stroke="#000" stroke-width="0.9"/>
<circle cx="321" cy="67.3" r="1.75" fill="#fff" stroke="#000" stroke-width="0.9"/>
<rect x="41.8" y="52.2" width="474.6" height="90.2" fill="none" stroke="#b4b4b4" stroke-width="1"/>
<path d="M38.3 142.4H41.8M38.3 127.37H41.8M38.3 112.33H41.8M38.3 97.3H41.8M38.3 82.27H41.8M38.3 67.23H41.8M41.8 142.4V145.9M120.9 142.4V145.9M200 142.4V145.9M279.1 142.4V145.9M358.2 142.4V145.9M437.3 142.4V145.9M516.4 142.4V145.9" stroke="#000" stroke-width="1.25" fill="none"/>
<text x="34" y="146.5" font-size="11.67" text-anchor="end" textLength="7.43" lengthAdjust="spacingAndGlyphs">0</text>
<text x="34" y="131.47" font-size="11.67" text-anchor="end" textLength="7.43" lengthAdjust="spacingAndGlyphs">2</text>
<text x="34" y="116.43" font-size="11.67" text-anchor="end" textLength="7.43" lengthAdjust="spacingAndGlyphs">4</text>
<text x="34" y="101.4" font-size="11.67" text-anchor="end" textLength="7.43" lengthAdjust="spacingAndGlyphs">6</text>
<text x="34" y="86.37" font-size="11.67" text-anchor="end" textLength="7.43" lengthAdjust="spacingAndGlyphs">8</text>
<text x="34" y="71.33" font-size="11.67" text-anchor="end" textLength="14.85" lengthAdjust="spacingAndGlyphs">10</text>
<text transform="translate(274.5 49.8) rotate(-90)" font-size="10.2" fill="#ff0000" textLength="12.98" lengthAdjust="spacingAndGlyphs">29</text>
<text transform="translate(298.9 49.8) rotate(-90)" font-size="10.2" fill="#ff0000" textLength="12.98" lengthAdjust="spacingAndGlyphs">27</text>
<text transform="translate(325.5 49.8) rotate(-90)" font-size="10.2" fill="#ff0000" textLength="12.98" lengthAdjust="spacingAndGlyphs">25</text>
<text transform="translate(356.5 49.8) rotate(-90)" font-size="10.2" fill="#ff0000" textLength="12.98" lengthAdjust="spacingAndGlyphs">23</text>
<text transform="translate(390.5 49.8) rotate(-90)" font-size="10.2" fill="#ff0000" textLength="12.98" lengthAdjust="spacingAndGlyphs">21</text>
<text transform="translate(428.8 49.8) rotate(-90)" font-size="10.2" fill="#ff0000" textLength="12.98" lengthAdjust="spacingAndGlyphs">19</text>
<text transform="translate(472.9 49.8) rotate(-90)" font-size="10.2" fill="#ff0000" textLength="12.98" lengthAdjust="spacingAndGlyphs">17</text>
<path d="M129.69 48.7V52.2M140.68 48.7V52.2M154.8 48.7V52.2M173.63 48.7V52.2M200 48.7V52.2M239.55 48.7V52.2M305.47 48.7V52.2M437.3 48.7V52.2" stroke="#000" stroke-width="1.25" fill="none"/>
<text transform="translate(133.89 45.6) rotate(-90)" font-size="11.67" textLength="26.21" lengthAdjust="spacingAndGlyphs">10:9</text>
<text transform="translate(144.88 45.6) rotate(-90)" font-size="11.67" textLength="18.78" lengthAdjust="spacingAndGlyphs">9:8</text>
<text transform="translate(159 45.6) rotate(-90)" font-size="11.67" textLength="18.78" lengthAdjust="spacingAndGlyphs">8:7</text>
<text transform="translate(177.83 45.6) rotate(-90)" font-size="11.67" textLength="18.78" lengthAdjust="spacingAndGlyphs">7:6</text>
<text transform="translate(204.2 45.6) rotate(-90)" font-size="11.67" textLength="18.78" lengthAdjust="spacingAndGlyphs">6:5</text>
<text transform="translate(243.75 45.6) rotate(-90)" font-size="11.67" textLength="18.78" lengthAdjust="spacingAndGlyphs">5:4</text>
<text transform="translate(309.67 45.6) rotate(-90)" font-size="11.67" textLength="18.78" lengthAdjust="spacingAndGlyphs">4:3</text>
<text transform="translate(441.5 45.6) rotate(-90)" font-size="11.67" textLength="18.78" lengthAdjust="spacingAndGlyphs">3:2</text>
<path d="M41.8 236.35H516.4M41.8 221.2H516.4M41.8 206.05H516.4M41.8 190.9H516.4M41.8 175.75H516.4M120.9 160.6V251.5M200 160.6V251.5M279.1 160.6V251.5M358.2 160.6V251.5M437.3 160.6V251.5" stroke="#d4d4d4" stroke-width="1" stroke-dasharray="1 0.6" fill="none"/>
<path d="M315.4 160.6V251.5M322.2 160.6V251.5M330.4 160.6V251.5M338.4 160.6V251.5M346.4 160.6V251.5M355 160.6V251.5M363.6 160.6V251.5M373.3 160.6V251.5M383.6 160.6V251.5M394 160.6V251.5M405.6 160.6V251.5M417.6 160.6V251.5M429.7 160.6V251.5M443.6 160.6V251.5M458 160.6V251.5M473.5 160.6V251.5" stroke="#ff0000" stroke-width="1" fill="none"/>
<g fill="#000"><circle cx="73.97" cy="238.43" r="1.85"/><circle cx="75.96" cy="236.94" r="1.85"/><circle cx="81.44" cy="235.94" r="1.85"/><circle cx="80.44" cy="241.42" r="1.85"/><circle cx="83.43" cy="243.41" r="1.85"/><circle cx="90.9" cy="229.47" r="1.85"/><circle cx="91.9" cy="241.92" r="1.85"/><circle cx="95.88" cy="240.92" r="1.85"/><circle cx="97.87" cy="232.96" r="1.85"/><circle cx="105.84" cy="239.43" r="1.85"/><circle cx="109.82" cy="228.97" r="1.85"/><circle cx="112.81" cy="234.95" r="1.85"/><circle cx="116" cy="231" r="1.85"/><circle cx="119" cy="232" r="1.85"/><circle cx="124" cy="222" r="1.85"/><circle cx="128" cy="228" r="1.85"/><circle cx="130" cy="227" r="1.85"/><circle cx="134" cy="221" r="1.85"/><circle cx="138" cy="223" r="1.85"/><circle cx="143" cy="217" r="1.85"/><circle cx="148" cy="213" r="1.85"/><circle cx="150" cy="212" r="1.85"/><circle cx="155" cy="225" r="1.85"/><circle cx="158" cy="223" r="1.85"/><circle cx="162" cy="210" r="1.85"/><circle cx="167" cy="208" r="1.85"/><circle cx="169" cy="209" r="1.85"/><circle cx="171" cy="214" r="1.85"/><circle cx="174" cy="216" r="1.85"/><circle cx="176" cy="213" r="1.85"/><circle cx="179" cy="202" r="1.85"/><circle cx="183" cy="201" r="1.85"/><circle cx="185" cy="213" r="1.85"/><circle cx="186" cy="218" r="1.85"/><circle cx="188" cy="196" r="1.85"/><circle cx="191" cy="201" r="1.85"/><circle cx="194" cy="201" r="1.85"/><circle cx="197" cy="215" r="1.85"/><circle cx="200" cy="218" r="1.85"/><circle cx="203" cy="208" r="1.85"/><circle cx="206" cy="196" r="1.85"/><circle cx="208" cy="194" r="1.85"/><circle cx="211" cy="195" r="1.85"/><circle cx="214" cy="196" r="1.85"/><circle cx="216" cy="204" r="1.85"/><circle cx="218" cy="208" r="1.85"/><circle cx="219" cy="218" r="1.85"/><circle cx="220" cy="208" r="1.85"/><circle cx="222" cy="191" r="1.85"/><circle cx="226" cy="196" r="1.85"/><circle cx="229" cy="189" r="1.85"/><circle cx="232" cy="195" r="1.85"/><circle cx="234" cy="200" r="1.85"/><circle cx="237" cy="216" r="1.85"/><circle cx="239" cy="212" r="1.85"/><circle cx="242" cy="208" r="1.85"/><circle cx="245" cy="192" r="1.85"/><circle cx="248" cy="188" r="1.85"/><circle cx="250" cy="184" r="1.85"/><circle cx="252" cy="185" r="1.85"/><circle cx="255" cy="184" r="1.85"/><circle cx="259" cy="182" r="1.85"/><circle cx="261" cy="183" r="1.85"/><circle cx="263" cy="184" r="1.85"/><circle cx="265" cy="181" r="1.85"/><circle cx="266" cy="191" r="1.85"/><circle cx="268" cy="210" r="1.85"/><circle cx="270" cy="181" r="1.85"/><circle cx="273" cy="178" r="1.85"/><circle cx="277" cy="183" r="1.85"/><circle cx="279" cy="183" r="1.85"/><circle cx="281" cy="182" r="1.85"/><circle cx="283" cy="180" r="1.85"/><circle cx="285" cy="182" r="1.85"/><circle cx="287" cy="180" r="1.85"/><circle cx="290" cy="181" r="1.85"/><circle cx="292" cy="183" r="1.85"/><circle cx="294" cy="181" r="1.85"/><circle cx="296" cy="184" r="1.85"/><circle cx="298" cy="190" r="1.85"/><circle cx="309" cy="192" r="1.85"/><circle cx="311" cy="194" r="1.85"/><circle cx="189.23" cy="205.72" r="1.85"/><circle cx="188.23" cy="201.08" r="1.85"/><circle cx="233.62" cy="202.97" r="1.85"/><circle cx="209.7" cy="203.93" r="1.85"/><circle cx="157.5" cy="215.51" r="1.85"/><circle cx="123.7" cy="220.15" r="1.85"/><circle cx="188.72" cy="208.26" r="1.85"/><circle cx="164.12" cy="213.16" r="1.85"/><circle cx="221.65" cy="197.35" r="1.85"/><circle cx="204.15" cy="202.49" r="1.85"/><circle cx="196.02" cy="207.56" r="1.85"/><circle cx="148.21" cy="211.91" r="1.85"/><circle cx="217" cy="213.04" r="1.85"/><circle cx="128.5" cy="221.01" r="1.85"/><circle cx="154.69" cy="223.58" r="1.85"/><circle cx="141.16" cy="225.48" r="1.85"/><circle cx="232.15" cy="196.32" r="1.85"/><circle cx="141.5" cy="221.62" r="1.85"/><circle cx="202.52" cy="204.28" r="1.85"/><circle cx="227.1" cy="192.2" r="1.85"/><circle cx="231.7" cy="192.2" r="1.85"/><circle cx="245.1" cy="191.1" r="1.85"/><circle cx="244.6" cy="193.2" r="1.85"/><circle cx="248.2" cy="188.6" r="1.85"/><circle cx="249.7" cy="188" r="1.85"/><circle cx="250.8" cy="184.4" r="1.85"/><circle cx="252.3" cy="183.9" r="1.85"/><circle cx="254.4" cy="182.9" r="1.85"/><circle cx="255.4" cy="184.4" r="1.85"/><circle cx="256.4" cy="186.5" r="1.85"/><circle cx="259" cy="183.4" r="1.85"/><circle cx="260.6" cy="182.9" r="1.85"/><circle cx="262.1" cy="182.9" r="1.85"/><circle cx="263.7" cy="185" r="1.85"/><circle cx="265.2" cy="186.5" r="1.85"/><circle cx="266.2" cy="179.8" r="1.85"/><circle cx="270.9" cy="181.3" r="1.85"/><circle cx="274" cy="179.3" r="1.85"/><circle cx="276" cy="176.7" r="1.85"/><circle cx="274.1" cy="178.2" r="1.85"/><circle cx="276.1" cy="178.8" r="1.85"/><circle cx="273" cy="179.8" r="1.85"/><circle cx="278.2" cy="183.4" r="1.85"/><circle cx="281.3" cy="182.9" r="1.85"/><circle cx="283.3" cy="182.4" r="1.85"/><circle cx="284.9" cy="181.3" r="1.85"/><circle cx="286.4" cy="180.3" r="1.85"/><circle cx="287.5" cy="179.8" r="1.85"/><circle cx="289" cy="179.8" r="1.85"/><circle cx="290.6" cy="179.8" r="1.85"/><circle cx="295.2" cy="182.4" r="1.85"/><circle cx="296.7" cy="183.9" r="1.85"/><circle cx="298.8" cy="183.4" r="1.85"/><circle cx="292.1" cy="190.1" r="1.85"/><circle cx="293.6" cy="190.6" r="1.85"/><circle cx="297.8" cy="191.1" r="1.85"/><circle cx="311.7" cy="178.2" r="1.85"/><circle cx="312.7" cy="179.3" r="1.85"/><circle cx="310.1" cy="192.2" r="1.85"/><circle cx="166.2" cy="207.5" r="1.85"/><circle cx="169.8" cy="208" r="1.85"/><circle cx="171.3" cy="212.7" r="1.85"/><circle cx="175.5" cy="213.2" r="1.85"/><circle cx="176.5" cy="214.2" r="1.85"/><circle cx="182.2" cy="200.8" r="1.85"/><circle cx="184.2" cy="201.3" r="1.85"/><circle cx="184.7" cy="208" r="1.85"/><circle cx="185.3" cy="211.1" r="1.85"/><circle cx="185.8" cy="217.3" r="1.85"/><circle cx="188.4" cy="196.2" r="1.85"/><circle cx="189.9" cy="198.2" r="1.85"/><circle cx="192" cy="199.8" r="1.85"/><circle cx="194" cy="200.8" r="1.85"/><circle cx="195.6" cy="201.3" r="1.85"/><circle cx="194.5" cy="207.5" r="1.85"/><circle cx="196.6" cy="210.6" r="1.85"/><circle cx="202.3" cy="209.1" r="1.85"/><circle cx="206.9" cy="193.6" r="1.85"/><circle cx="208.5" cy="194.6" r="1.85"/><circle cx="207.1" cy="193.7" r="1.85"/><circle cx="209.6" cy="194.7" r="1.85"/><circle cx="214.8" cy="195.8" r="1.85"/><circle cx="222" cy="191.6" r="1.85"/><circle cx="227.2" cy="192.2" r="1.85"/><circle cx="231.8" cy="192.2" r="1.85"/><circle cx="220.5" cy="196.8" r="1.85"/><circle cx="244.7" cy="191.6" r="1.85"/><circle cx="245.7" cy="190.6" r="1.85"/><circle cx="248.3" cy="188.6" r="1.85"/><circle cx="250.4" cy="183.9" r="1.85"/><circle cx="252.4" cy="182.9" r="1.85"/><circle cx="254.5" cy="182.4" r="1.85"/><circle cx="256" cy="183.4" r="1.85"/><circle cx="249.3" cy="187.5" r="1.85"/><circle cx="99.56" cy="237.57" r="1.85"/><circle cx="102.36" cy="234.81" r="1.85"/><circle cx="105.45" cy="232.88" r="1.85"/><circle cx="107.75" cy="237.87" r="1.85"/><circle cx="110.42" cy="233.5" r="1.85"/><circle cx="112.72" cy="234.9" r="1.85"/><circle cx="115.31" cy="236.92" r="1.85"/><circle cx="115.57" cy="235.43" r="1.85"/><circle cx="118.11" cy="233.82" r="1.85"/><circle cx="120.97" cy="233.74" r="1.85"/><circle cx="123.79" cy="234.35" r="1.85"/><circle cx="126.31" cy="226.69" r="1.85"/><circle cx="128.5" cy="224.95" r="1.85"/><circle cx="131.43" cy="226.98" r="1.85"/><circle cx="133.69" cy="224.99" r="1.85"/><circle cx="135.74" cy="230.75" r="1.85"/><circle cx="138.46" cy="229.43" r="1.85"/><circle cx="141.1" cy="226.34" r="1.85"/><circle cx="143.39" cy="222.5" r="1.85"/><circle cx="145.91" cy="226.23" r="1.85"/><circle cx="148.48" cy="224.61" r="1.85"/><circle cx="150.66" cy="222.88" r="1.85"/><circle cx="153.11" cy="219.01" r="1.85"/><circle cx="156.12" cy="219.57" r="1.85"/><circle cx="158.42" cy="225.92" r="1.85"/><circle cx="161.47" cy="217.9" r="1.85"/><circle cx="163.13" cy="219.82" r="1.85"/></g>
<g fill="#ff0000"><circle cx="72.47" cy="243.41" r="1.85"/><circle cx="73.97" cy="243.91" r="1.85"/><circle cx="75.96" cy="243.91" r="1.85"/><circle cx="77.95" cy="244.41" r="1.85"/><circle cx="79.94" cy="244.41" r="1.85"/><circle cx="81.94" cy="244.91" r="1.85"/><circle cx="83.93" cy="244.41" r="1.85"/><circle cx="88.41" cy="244.41" r="1.85"/><circle cx="89.9" cy="245.41" r="1.85"/><circle cx="91.9" cy="245.41" r="1.85"/><circle cx="93.89" cy="245.41" r="1.85"/><circle cx="72.97" cy="234.95" r="1.85"/><circle cx="74.96" cy="233.45" r="1.85"/><circle cx="76.46" cy="231.96" r="1.85"/><circle cx="79.45" cy="231.46" r="1.85"/><circle cx="80.94" cy="231.96" r="1.85"/><circle cx="82.43" cy="231.96" r="1.85"/><circle cx="84.43" cy="236.94" r="1.85"/><circle cx="85.92" cy="235.45" r="1.85"/><circle cx="87.41" cy="233.95" r="1.85"/><circle cx="88.41" cy="232.96" r="1.85"/><circle cx="89.9" cy="235.94" r="1.85"/><circle cx="91.9" cy="239.93" r="1.85"/><circle cx="84.92" cy="240.92" r="1.85"/><circle cx="82.93" cy="239.43" r="1.85"/><circle cx="94.39" cy="231.96" r="1.85"/><circle cx="95.88" cy="230.96" r="1.85"/><circle cx="97.37" cy="227.98" r="1.85"/><circle cx="98.87" cy="231.96" r="1.85"/><circle cx="100.36" cy="234.95" r="1.85"/><circle cx="101.36" cy="232.46" r="1.85"/><circle cx="103.35" cy="234.45" r="1.85"/><circle cx="104.84" cy="235.94" r="1.85"/><circle cx="106.34" cy="236.94" r="1.85"/><circle cx="107.83" cy="231.96" r="1.85"/><circle cx="109.82" cy="230.96" r="1.85"/><circle cx="111.82" cy="229.97" r="1.85"/><circle cx="113.81" cy="228.97" r="1.85"/><circle cx="115.8" cy="227.48" r="1.85"/><circle cx="81.44" cy="239.93" r="1.85"/><circle cx="82.93" cy="237.94" r="1.85"/><circle cx="84.43" cy="235.94" r="1.85"/><circle cx="85.92" cy="234.45" r="1.85"/><circle cx="87.41" cy="233.45" r="1.85"/><circle cx="88.91" cy="232.96" r="1.85"/><circle cx="83.93" cy="241.92" r="1.85"/><circle cx="85.92" cy="240.92" r="1.85"/><circle cx="89.9" cy="240.92" r="1.85"/><circle cx="91.4" cy="239.93" r="1.85"/><circle cx="94.88" cy="231.96" r="1.85"/><circle cx="96.88" cy="233.95" r="1.85"/><circle cx="98.87" cy="235.94" r="1.85"/><circle cx="100.86" cy="236.94" r="1.85"/><circle cx="102.85" cy="234.95" r="1.85"/><circle cx="104.84" cy="233.95" r="1.85"/><circle cx="95.88" cy="236.94" r="1.85"/><circle cx="97.87" cy="237.94" r="1.85"/><circle cx="99.86" cy="238.93" r="1.85"/><circle cx="101.86" cy="237.94" r="1.85"/><circle cx="106.84" cy="233.95" r="1.85"/><circle cx="108.83" cy="232.96" r="1.85"/><circle cx="110.82" cy="231.96" r="1.85"/><circle cx="112.81" cy="231.46" r="1.85"/><circle cx="114.8" cy="230.96" r="1.85"/><circle cx="312" cy="188" r="1.85"/><circle cx="314" cy="186" r="1.85"/><circle cx="315" cy="196" r="1.85"/><circle cx="316" cy="188" r="1.85"/><circle cx="318" cy="184" r="1.85"/><circle cx="319" cy="191" r="1.85"/><circle cx="320" cy="182" r="1.85"/><circle cx="322" cy="186" r="1.85"/><circle cx="323" cy="195" r="1.85"/><circle cx="324" cy="188" r="1.85"/><circle cx="326" cy="181" r="1.85"/><circle cx="327" cy="185" r="1.85"/><circle cx="329" cy="187" r="1.85"/><circle cx="330" cy="192" r="1.85"/><circle cx="331" cy="188" r="1.85"/><circle cx="333" cy="185" r="1.85"/><circle cx="335" cy="184" r="1.85"/><circle cx="337" cy="188" r="1.85"/><circle cx="338" cy="195" r="1.85"/><circle cx="339" cy="199" r="1.85"/><circle cx="340" cy="194" r="1.85"/><circle cx="341" cy="186" r="1.85"/><circle cx="343" cy="186" r="1.85"/><circle cx="345" cy="188" r="1.85"/><circle cx="346" cy="195" r="1.85"/><circle cx="348" cy="185" r="1.85"/><circle cx="350" cy="186" r="1.85"/><circle cx="351" cy="191" r="1.85"/><circle cx="353" cy="190" r="1.85"/><circle cx="355" cy="199" r="1.85"/><circle cx="356" cy="195" r="1.85"/><circle cx="357" cy="201" r="1.85"/><circle cx="358" cy="203" r="1.85"/><circle cx="359" cy="191" r="1.85"/><circle cx="360" cy="188" r="1.85"/><circle cx="362" cy="191" r="1.85"/><circle cx="363" cy="196" r="1.85"/><circle cx="364" cy="201" r="1.85"/><circle cx="365" cy="203" r="1.85"/><circle cx="366" cy="194" r="1.85"/><circle cx="367" cy="191" r="1.85"/><circle cx="368" cy="199" r="1.85"/><circle cx="369" cy="207" r="1.85"/><circle cx="370" cy="200" r="1.85"/><circle cx="371" cy="193" r="1.85"/><circle cx="372" cy="195" r="1.85"/><circle cx="373" cy="202" r="1.85"/><circle cx="374" cy="204" r="1.85"/><circle cx="375" cy="187" r="1.85"/><circle cx="377" cy="186" r="1.85"/><circle cx="379" cy="191" r="1.85"/><circle cx="381" cy="193" r="1.85"/><circle cx="383" cy="199" r="1.85"/><circle cx="384" cy="201" r="1.85"/><circle cx="385" cy="191" r="1.85"/><circle cx="386" cy="187" r="1.85"/><circle cx="388" cy="187" r="1.85"/><circle cx="390" cy="192" r="1.85"/><circle cx="392" cy="191" r="1.85"/><circle cx="393" cy="199" r="1.85"/><circle cx="394" cy="207" r="1.85"/><circle cx="395" cy="206" r="1.85"/><circle cx="397" cy="192" r="1.85"/><circle cx="399" cy="190" r="1.85"/><circle cx="401" cy="189" r="1.85"/><circle cx="403" cy="198" r="1.85"/><circle cx="404" cy="200" r="1.85"/><circle cx="405" cy="202" r="1.85"/><circle cx="407" cy="205" r="1.85"/><circle cx="408" cy="205" r="1.85"/><circle cx="409" cy="190" r="1.85"/><circle cx="410" cy="193" r="1.85"/><circle cx="412" cy="195" r="1.85"/><circle cx="414" cy="194" r="1.85"/><circle cx="416" cy="209" r="1.85"/><circle cx="418" cy="214" r="1.85"/><circle cx="421" cy="195" r="1.85"/><circle cx="423" cy="198.4" r="1.85"/><circle cx="425.6" cy="202.4" r="1.85"/><circle cx="427.6" cy="208.4" r="1.85"/><circle cx="429.6" cy="208.4" r="1.85"/><circle cx="432" cy="216" r="1.85"/><circle cx="434.4" cy="205.6" r="1.85"/><circle cx="436.4" cy="207" r="1.85"/><circle cx="438.4" cy="210" r="1.85"/><circle cx="440.4" cy="210.4" r="1.85"/><circle cx="442.4" cy="210.4" r="1.85"/><circle cx="444.4" cy="210" r="1.85"/><circle cx="446.4" cy="208.4" r="1.85"/><circle cx="448.4" cy="206" r="1.85"/><circle cx="450.4" cy="202" r="1.85"/><circle cx="453" cy="207" r="1.85"/><circle cx="455" cy="215.6" r="1.85"/><circle cx="457" cy="215.6" r="1.85"/><circle cx="459.6" cy="217" r="1.85"/><circle cx="462.4" cy="222" r="1.85"/><circle cx="465" cy="216.6" r="1.85"/><circle cx="467" cy="219" r="1.85"/><circle cx="469" cy="219.6" r="1.85"/><circle cx="472" cy="211" r="1.85"/><circle cx="474.4" cy="218" r="1.85"/><circle cx="477" cy="217.6" r="1.85"/><circle cx="479" cy="220.4" r="1.85"/><circle cx="481.6" cy="226" r="1.85"/><circle cx="483.6" cy="225.6" r="1.85"/><circle cx="485.6" cy="225" r="1.85"/><circle cx="487.6" cy="224" r="1.85"/><circle cx="489.6" cy="223" r="1.85"/><circle cx="491.2" cy="222.4" r="1.85"/><circle cx="493.6" cy="227.6" r="1.85"/><circle cx="495.6" cy="227.6" r="1.85"/><circle cx="498" cy="228" r="1.85"/><circle cx="500.8" cy="218.4" r="1.85"/><circle cx="503.2" cy="221.2" r="1.85"/><circle cx="505.6" cy="226.4" r="1.85"/><circle cx="507.6" cy="227.6" r="1.85"/><circle cx="509.6" cy="228.4" r="1.85"/><circle cx="511.6" cy="229" r="1.85"/><circle cx="513.6" cy="225.6" r="1.85"/><circle cx="515.2" cy="228" r="1.85"/><circle cx="116" cy="228" r="1.85"/><circle cx="118" cy="229" r="1.85"/><circle cx="120" cy="233" r="1.85"/><circle cx="122" cy="227" r="1.85"/><circle cx="124" cy="223" r="1.85"/><circle cx="126" cy="225" r="1.85"/><circle cx="128" cy="224" r="1.85"/><circle cx="130" cy="222" r="1.85"/><circle cx="132" cy="220" r="1.85"/><circle cx="134" cy="221" r="1.85"/><circle cx="136" cy="225" r="1.85"/><circle cx="138" cy="222" r="1.85"/><circle cx="140" cy="221" r="1.85"/><circle cx="142" cy="219" r="1.85"/><circle cx="144" cy="214" r="1.85"/><circle cx="146" cy="217" r="1.85"/><circle cx="148" cy="215" r="1.85"/><circle cx="150" cy="214" r="1.85"/><circle cx="152" cy="216" r="1.85"/><circle cx="154" cy="222" r="1.85"/><circle cx="156" cy="220" r="1.85"/><circle cx="158" cy="215" r="1.85"/><circle cx="160" cy="211" r="1.85"/><circle cx="162" cy="214" r="1.85"/><circle cx="164" cy="217" r="1.85"/><circle cx="165" cy="213" r="1.85"/><circle cx="167" cy="210" r="1.85"/><circle cx="169" cy="211" r="1.85"/><circle cx="171" cy="215" r="1.85"/><circle cx="173" cy="218" r="1.85"/><circle cx="175" cy="217" r="1.85"/><circle cx="177" cy="208" r="1.85"/><circle cx="179" cy="204" r="1.85"/><circle cx="181" cy="203" r="1.85"/><circle cx="183" cy="205" r="1.85"/><circle cx="185" cy="208" r="1.85"/><circle cx="186" cy="213" r="1.85"/><circle cx="188" cy="207" r="1.85"/><circle cx="190" cy="202" r="1.85"/><circle cx="192" cy="203" r="1.85"/><circle cx="194" cy="207" r="1.85"/><circle cx="196" cy="210" r="1.85"/><circle cx="198" cy="215" r="1.85"/><circle cx="200" cy="217" r="1.85"/><circle cx="202" cy="213" r="1.85"/><circle cx="203" cy="206" r="1.85"/><circle cx="205" cy="201" r="1.85"/><circle cx="207" cy="197" r="1.85"/><circle cx="209" cy="198" r="1.85"/><circle cx="211" cy="201" r="1.85"/><circle cx="213" cy="200" r="1.85"/><circle cx="215" cy="204" r="1.85"/><circle cx="217" cy="211" r="1.85"/><circle cx="219" cy="213" r="1.85"/><circle cx="220" cy="216" r="1.85"/><circle cx="222" cy="200" r="1.85"/><circle cx="224" cy="198" r="1.85"/><circle cx="226" cy="195" r="1.85"/><circle cx="229" cy="191" r="1.85"/><circle cx="231" cy="194" r="1.85"/><circle cx="233" cy="198" r="1.85"/><circle cx="235" cy="205" r="1.85"/><circle cx="237" cy="208" r="1.85"/><circle cx="239" cy="212" r="1.85"/><circle cx="241" cy="212" r="1.85"/><circle cx="243" cy="205" r="1.85"/><circle cx="245" cy="198" r="1.85"/><circle cx="247" cy="195" r="1.85"/><circle cx="249" cy="191" r="1.85"/><circle cx="251" cy="191" r="1.85"/><circle cx="253" cy="192" r="1.85"/><circle cx="255" cy="190" r="1.85"/><circle cx="257" cy="197" r="1.85"/><circle cx="118.67" cy="226.67" r="1.85"/><circle cx="119.33" cy="230.16" r="1.85"/><circle cx="120.5" cy="229.45" r="1.85"/><circle cx="121" cy="230.66" r="1.85"/><circle cx="121.5" cy="228.72" r="1.85"/><circle cx="122.67" cy="227.59" r="1.85"/><circle cx="123.33" cy="225.54" r="1.85"/><circle cx="125" cy="225.66" r="1.85"/><circle cx="129" cy="225.91" r="1.85"/><circle cx="131" cy="220.15" r="1.85"/><circle cx="134.67" cy="221" r="1.85"/><circle cx="135.33" cy="227.39" r="1.85"/><circle cx="137" cy="220.81" r="1.85"/><circle cx="141" cy="221.72" r="1.85"/><circle cx="142.5" cy="218.85" r="1.85"/><circle cx="143" cy="213" r="1.85"/><circle cx="143.5" cy="217.83" r="1.85"/><circle cx="145" cy="218.51" r="1.85"/><circle cx="147" cy="216.98" r="1.85"/><circle cx="151" cy="216.8" r="1.85"/><circle cx="152.5" cy="219.9" r="1.85"/><circle cx="153" cy="216.23" r="1.85"/><circle cx="153.5" cy="220.68" r="1.85"/><circle cx="155" cy="221.03" r="1.85"/><circle cx="156.5" cy="221.32" r="1.85"/><circle cx="157" cy="219.84" r="1.85"/><circle cx="157.5" cy="218.76" r="1.85"/><circle cx="158.67" cy="214.31" r="1.85"/><circle cx="159.33" cy="215.35" r="1.85"/><circle cx="161" cy="213.9" r="1.85"/><circle cx="163" cy="216.98" r="1.85"/><circle cx="164.33" cy="213.59" r="1.85"/><circle cx="164.67" cy="210.73" r="1.85"/><circle cx="166" cy="209.74" r="1.85"/><circle cx="169.67" cy="211.66" r="1.85"/><circle cx="170.33" cy="211.77" r="1.85"/><circle cx="172" cy="218.11" r="1.85"/><circle cx="175.29" cy="216" r="1.85"/><circle cx="175.57" cy="215.04" r="1.85"/><circle cx="175.86" cy="213.75" r="1.85"/><circle cx="176.14" cy="212.72" r="1.85"/><circle cx="176.43" cy="210.52" r="1.85"/><circle cx="176.71" cy="206.9" r="1.85"/><circle cx="177.67" cy="208.1" r="1.85"/><circle cx="178.33" cy="206.53" r="1.85"/><circle cx="182" cy="204.01" r="1.85"/><circle cx="184" cy="206.67" r="1.85"/><circle cx="185.33" cy="210.43" r="1.85"/><circle cx="185.67" cy="209.25" r="1.85"/><circle cx="186.5" cy="212.64" r="1.85"/><circle cx="187" cy="208.81" r="1.85"/><circle cx="187.5" cy="206.46" r="1.85"/><circle cx="188.5" cy="204.62" r="1.85"/><circle cx="189" cy="205.6" r="1.85"/><circle cx="189.5" cy="201.84" r="1.85"/><circle cx="192.67" cy="205.48" r="1.85"/><circle cx="193.33" cy="207.95" r="1.85"/><circle cx="195" cy="208.47" r="1.85"/><circle cx="196.5" cy="210.69" r="1.85"/><circle cx="197" cy="212.4" r="1.85"/><circle cx="197.5" cy="214.63" r="1.85"/><circle cx="199" cy="217.28" r="1.85"/><circle cx="200.67" cy="216.23" r="1.85"/><circle cx="201.33" cy="215.02" r="1.85"/><circle cx="202.2" cy="209.57" r="1.85"/><circle cx="202.4" cy="208.51" r="1.85"/><circle cx="202.6" cy="207.62" r="1.85"/><circle cx="202.8" cy="208.57" r="1.85"/><circle cx="203.5" cy="203.81" r="1.85"/><circle cx="204" cy="203.83" r="1.85"/><circle cx="204.5" cy="199.91" r="1.85"/><circle cx="205.67" cy="197.56" r="1.85"/><circle cx="206.33" cy="197.22" r="1.85"/><circle cx="210" cy="200.33" r="1.85"/><circle cx="213.67" cy="202.26" r="1.85"/><circle cx="214.33" cy="203.51" r="1.85"/><circle cx="215.4" cy="204.4" r="1.85"/><circle cx="215.8" cy="206.88" r="1.85"/><circle cx="216.2" cy="208.03" r="1.85"/><circle cx="216.6" cy="209.44" r="1.85"/><circle cx="218" cy="210.17" r="1.85"/><circle cx="219.5" cy="216.39" r="1.85"/><circle cx="220.17" cy="213.22" r="1.85"/><circle cx="220.33" cy="215.63" r="1.85"/><circle cx="220.5" cy="214.09" r="1.85"/><circle cx="220.67" cy="208.35" r="1.85"/><circle cx="220.83" cy="209.14" r="1.85"/><circle cx="221" cy="209.54" r="1.85"/><circle cx="221.17" cy="208.91" r="1.85"/><circle cx="221.33" cy="205.09" r="1.85"/><circle cx="221.5" cy="202.89" r="1.85"/><circle cx="221.67" cy="201.27" r="1.85"/><circle cx="221.83" cy="203.47" r="1.85"/><circle cx="223" cy="197.61" r="1.85"/><circle cx="225" cy="196.89" r="1.85"/><circle cx="227" cy="191.95" r="1.85"/><circle cx="228" cy="192.45" r="1.85"/><circle cx="230" cy="194.67" r="1.85"/><circle cx="231.67" cy="193.57" r="1.85"/><circle cx="232.33" cy="198.2" r="1.85"/><circle cx="233.4" cy="199.44" r="1.85"/><circle cx="233.8" cy="202.66" r="1.85"/><circle cx="234.2" cy="203.18" r="1.85"/><circle cx="234.6" cy="202.31" r="1.85"/><circle cx="236" cy="208.41" r="1.85"/><circle cx="237.67" cy="209.27" r="1.85"/><circle cx="238.33" cy="208.39" r="1.85"/><circle cx="241.4" cy="208.22" r="1.85"/><circle cx="241.8" cy="209.16" r="1.85"/><circle cx="242.2" cy="207.56" r="1.85"/><circle cx="242.6" cy="205.45" r="1.85"/><circle cx="243.4" cy="201.88" r="1.85"/><circle cx="243.8" cy="201.45" r="1.85"/><circle cx="244.2" cy="199.92" r="1.85"/><circle cx="244.6" cy="201.03" r="1.85"/><circle cx="246" cy="194.11" r="1.85"/><circle cx="247.67" cy="194.87" r="1.85"/><circle cx="248.33" cy="193.96" r="1.85"/><circle cx="254" cy="189.18" r="1.85"/><circle cx="255.4" cy="193.45" r="1.85"/><circle cx="255.8" cy="193.82" r="1.85"/><circle cx="256.2" cy="196.13" r="1.85"/><circle cx="256.6" cy="194.59" r="1.85"/><circle cx="258" cy="199" r="1.85"/><circle cx="260" cy="192" r="1.85"/><circle cx="262" cy="190" r="1.85"/><circle cx="264" cy="191" r="1.85"/><circle cx="266" cy="197" r="1.85"/><circle cx="267" cy="203" r="1.85"/><circle cx="268" cy="206" r="1.85"/><circle cx="269" cy="198" r="1.85"/><circle cx="271" cy="197" r="1.85"/><circle cx="272" cy="202" r="1.85"/><circle cx="273" cy="190" r="1.85"/><circle cx="275" cy="189" r="1.85"/><circle cx="277" cy="190" r="1.85"/><circle cx="279" cy="194" r="1.85"/><circle cx="280" cy="188" r="1.85"/><circle cx="282" cy="189" r="1.85"/><circle cx="284" cy="187" r="1.85"/><circle cx="286" cy="185" r="1.85"/><circle cx="288" cy="188" r="1.85"/><circle cx="290" cy="183" r="1.85"/><circle cx="292" cy="187" r="1.85"/><circle cx="293" cy="193" r="1.85"/><circle cx="295" cy="189" r="1.85"/><circle cx="297" cy="192" r="1.85"/><circle cx="299" cy="195" r="1.85"/><circle cx="301" cy="199" r="1.85"/><circle cx="302" cy="204" r="1.85"/><circle cx="303" cy="209" r="1.85"/><circle cx="305" cy="209" r="1.85"/><circle cx="307" cy="207" r="1.85"/><circle cx="309" cy="203" r="1.85"/><circle cx="310" cy="198" r="1.85"/><circle cx="258.67" cy="196.36" r="1.85"/><circle cx="259.33" cy="194.08" r="1.85"/><circle cx="265" cy="195.2" r="1.85"/><circle cx="266.5" cy="200.21" r="1.85"/><circle cx="268.33" cy="203" r="1.85"/><circle cx="268.67" cy="200.49" r="1.85"/><circle cx="271.5" cy="198.96" r="1.85"/><circle cx="272.2" cy="198.52" r="1.85"/><circle cx="272.4" cy="196.24" r="1.85"/><circle cx="272.6" cy="195.6" r="1.85"/><circle cx="272.8" cy="191.89" r="1.85"/><circle cx="278" cy="193.05" r="1.85"/><circle cx="279.5" cy="190.4" r="1.85"/><circle cx="289" cy="184.94" r="1.85"/><circle cx="291" cy="185.03" r="1.85"/><circle cx="292.5" cy="189.26" r="1.85"/><circle cx="294" cy="190.7" r="1.85"/><circle cx="300" cy="198.09" r="1.85"/><circle cx="301.5" cy="202.42" r="1.85"/><circle cx="302.5" cy="207.25" r="1.85"/><circle cx="308" cy="205.31" r="1.85"/><circle cx="309.5" cy="201.49" r="1.85"/><circle cx="278.2" cy="194.7" r="1.85"/><circle cx="282.3" cy="193.2" r="1.85"/><circle cx="290.6" cy="182.9" r="1.85"/><circle cx="100.26" cy="232.23" r="1.85"/><circle cx="101.87" cy="232.05" r="1.85"/><circle cx="103.5" cy="231.14" r="1.85"/><circle cx="105.01" cy="232.36" r="1.85"/><circle cx="106.44" cy="233.6" r="1.85"/><circle cx="107.82" cy="234.1" r="1.85"/><circle cx="109.57" cy="232.95" r="1.85"/><circle cx="110.95" cy="232.23" r="1.85"/><circle cx="112.7" cy="230.36" r="1.85"/><circle cx="114.36" cy="231.69" r="1.85"/><circle cx="115.56" cy="227.97" r="1.85"/></g>
<path d="M275.2 163.8V175.8" stroke="#000" stroke-width="1.1"/>
<path d="M281.5 163.8V175.8" stroke="#000" stroke-width="1.1"/>
<path d="M284 163.8V175.8" stroke="#000" stroke-width="1.1"/>
<path d="M287 163.8V175.8" stroke="#000" stroke-width="1.1"/>
<path d="M289.4 163.8V175.8" stroke="#000" stroke-width="1.1"/>
<path d="M312.8 163.8V175.8" stroke="#000" stroke-width="1.1"/>
<path d="M313.8 163.8V175.8" stroke="#000" stroke-width="1.1"/>
<path d="M314.8 163.8V175.8" stroke="#000" stroke-width="1.1"/>
<path d="M315.6 163.8V175.8" stroke="#000" stroke-width="1.1"/>
<path d="M317 163.8V175.8" stroke="#000" stroke-width="0.5"/>
<path d="M318.5 163.8V175.8" stroke="#000" stroke-width="1.1"/>
<path d="M319.5 163.8V175.8" stroke="#000" stroke-width="1.1"/>
<path d="M320.5 163.8V175.8" stroke="#000" stroke-width="1.1"/>
<path d="M321.6 163.8V175.8" stroke="#000" stroke-width="1.1"/>
<circle cx="275.2" cy="176.7" r="1.7" fill="#000"/>
<circle cx="281.5" cy="175.8" r="1.75" fill="#fff" stroke="#000" stroke-width="0.9"/>
<circle cx="284" cy="175.8" r="1.75" fill="#fff" stroke="#000" stroke-width="0.9"/>
<circle cx="287" cy="175.8" r="1.75" fill="#fff" stroke="#000" stroke-width="0.9"/>
<circle cx="289.4" cy="175.8" r="1.75" fill="#fff" stroke="#000" stroke-width="0.9"/>
<circle cx="312.8" cy="175.8" r="1.75" fill="#fff" stroke="#000" stroke-width="0.9"/>
<circle cx="313.8" cy="175.8" r="1.75" fill="#fff" stroke="#000" stroke-width="0.9"/>
<circle cx="314.8" cy="175.8" r="1.75" fill="#fff" stroke="#000" stroke-width="0.9"/>
<circle cx="315.6" cy="175.8" r="1.75" fill="#fff" stroke="#000" stroke-width="0.9"/>
<circle cx="317" cy="175.8" r="1.75" fill="#fff" stroke="#000" stroke-width="0.9"/>
<circle cx="318.5" cy="175.8" r="1.75" fill="#fff" stroke="#000" stroke-width="0.9"/>
<circle cx="319.5" cy="175.8" r="1.75" fill="#fff" stroke="#000" stroke-width="0.9"/>
<circle cx="320.5" cy="175.8" r="1.75" fill="#fff" stroke="#000" stroke-width="0.9"/>
<circle cx="321.6" cy="175.8" r="1.75" fill="#fff" stroke="#000" stroke-width="0.9"/>
<rect x="41.8" y="160.6" width="474.6" height="90.9" fill="none" stroke="#b4b4b4" stroke-width="1"/>
<path d="M38.3 251.5H41.8M38.3 236.35H41.8M38.3 221.2H41.8M38.3 206.05H41.8M38.3 190.9H41.8M38.3 175.75H41.8M41.8 251.5V255M120.9 251.5V255M200 251.5V255M279.1 251.5V255M358.2 251.5V255M437.3 251.5V255M516.4 251.5V255" stroke="#000" stroke-width="1.25" fill="none"/>
<text x="34" y="255.6" font-size="11.67" text-anchor="end" textLength="7.43" lengthAdjust="spacingAndGlyphs">0</text>
<text x="34" y="240.45" font-size="11.67" text-anchor="end" textLength="7.43" lengthAdjust="spacingAndGlyphs">2</text>
<text x="34" y="225.3" font-size="11.67" text-anchor="end" textLength="7.43" lengthAdjust="spacingAndGlyphs">4</text>
<text x="34" y="210.15" font-size="11.67" text-anchor="end" textLength="7.43" lengthAdjust="spacingAndGlyphs">6</text>
<text x="34" y="195" font-size="11.67" text-anchor="end" textLength="7.43" lengthAdjust="spacingAndGlyphs">8</text>
<text x="34" y="179.85" font-size="11.67" text-anchor="end" textLength="14.85" lengthAdjust="spacingAndGlyphs">10</text>
<text transform="translate(325.7 158.2) rotate(-90)" font-size="10.2" fill="#ff0000" textLength="12.98" lengthAdjust="spacingAndGlyphs">29</text>
<text transform="translate(341.9 158.2) rotate(-90)" font-size="10.2" fill="#ff0000" textLength="12.98" lengthAdjust="spacingAndGlyphs">27</text>
<text transform="translate(358.5 158.2) rotate(-90)" font-size="10.2" fill="#ff0000" textLength="12.98" lengthAdjust="spacingAndGlyphs">25</text>
<text transform="translate(376.8 158.2) rotate(-90)" font-size="10.2" fill="#ff0000" textLength="12.98" lengthAdjust="spacingAndGlyphs">23</text>
<text transform="translate(397.5 158.2) rotate(-90)" font-size="10.2" fill="#ff0000" textLength="12.98" lengthAdjust="spacingAndGlyphs">21</text>
<text transform="translate(421.1 158.2) rotate(-90)" font-size="10.2" fill="#ff0000" textLength="12.98" lengthAdjust="spacingAndGlyphs">19</text>
<text transform="translate(447.1 158.2) rotate(-90)" font-size="10.2" fill="#ff0000" textLength="12.98" lengthAdjust="spacingAndGlyphs">17</text>
<text transform="translate(477 158.2) rotate(-90)" font-size="10.2" fill="#ff0000" textLength="12.98" lengthAdjust="spacingAndGlyphs">15</text>
<text x="42.2" y="268.3" font-size="11.67" text-anchor="middle" textLength="18.56" lengthAdjust="spacingAndGlyphs">1.0</text>
<text x="121.3" y="268.3" font-size="11.67" text-anchor="middle" textLength="18.56" lengthAdjust="spacingAndGlyphs">1.1</text>
<text x="200.4" y="268.3" font-size="11.67" text-anchor="middle" textLength="18.56" lengthAdjust="spacingAndGlyphs">1.2</text>
<text x="279.5" y="268.3" font-size="11.67" text-anchor="middle" textLength="18.56" lengthAdjust="spacingAndGlyphs">1.3</text>
<text x="358.6" y="268.3" font-size="11.67" text-anchor="middle" textLength="18.56" lengthAdjust="spacingAndGlyphs">1.4</text>
<text x="437.7" y="268.3" font-size="11.67" text-anchor="middle" textLength="18.56" lengthAdjust="spacingAndGlyphs">1.5</text>
<text x="516.8" y="268.3" font-size="11.67" text-anchor="middle" textLength="18.56" lengthAdjust="spacingAndGlyphs">1.6</text>
<text x="44.5" y="63.4" font-size="14" font-style="italic">&#945;</text>
<text x="58.4" y="63.5" font-size="14" font-weight="bold" textLength="46.36" lengthAdjust="spacingAndGlyphs">Cen A</text>
<text x="456.3" y="63.6" font-size="14" font-weight="bold" textLength="54.44" lengthAdjust="spacingAndGlyphs">a - 4 pl</text>
<text x="44.5" y="172.1" font-size="14" font-style="italic">&#945;</text>
<text x="58.4" y="172.1" font-size="14" font-weight="bold" textLength="46.19" lengthAdjust="spacingAndGlyphs">Cen B</text>
<text x="456.3" y="172.1" font-size="14" font-weight="bold" textLength="55.02" lengthAdjust="spacingAndGlyphs">b - 6 pl</text>
<rect x="375.6" y="114.6" width="134.9" height="21.6" rx="2" ry="2" fill="#fff" fill-opacity="0.8" stroke="#d6d6d6" stroke-width="0.8"/>
<circle cx="391.8" cy="124.2" r="3" fill="#000"/>
<circle cx="471.4" cy="124.1" r="3.6" fill="#ff0000"/>
<text x="412.4" y="127.3" font-size="11.67" font-style="italic" textLength="4.8" lengthAdjust="spacingAndGlyphs">r</text>
<text x="417.2" y="129.9" font-size="8.17" textLength="18.53" lengthAdjust="spacingAndGlyphs">emp</text>
<text x="492.6" y="127.6" font-size="11.67" font-style="italic" textLength="4.8" lengthAdjust="spacingAndGlyphs">r</text>
<g stroke="#222" stroke-width="0.75" fill="none"><circle cx="502.6" cy="127.5" r="2.55"/><path d="M500.05 127.5H505.15M502.6 124.95V130.05"/></g>
<g transform="translate(12.9 131.9) rotate(-90) scale(1.012 1)">
<text x="-1.3" y="0" font-size="17.3" textLength="25.41" lengthAdjust="spacingAndGlyphs">log</text>
<text x="30.58" y="0" font-size="17.3" font-style="italic">t</text>
<text x="41.25" y="0" font-size="17.3" textLength="29.73" lengthAdjust="spacingAndGlyphs">(yr)</text>
</g>
<g transform="translate(12.9 241.1) rotate(-90) scale(1.012 1)">
<text x="-1.3" y="0" font-size="17.3" textLength="25.41" lengthAdjust="spacingAndGlyphs">log</text>
<text x="30.58" y="0" font-size="17.3" font-style="italic">t</text>
<text x="41.25" y="0" font-size="17.3" textLength="29.73" lengthAdjust="spacingAndGlyphs">(yr)</text>
</g>
<text x="197.6" y="285" font-size="16.67" textLength="101.58" lengthAdjust="spacingAndGlyphs">Period Ratio</text>
<text x="305.2" y="285" font-size="16.67" font-style="italic" textLength="10.18" lengthAdjust="spacingAndGlyphs">T</text>
<text x="316.6" y="288.4" font-size="11.67" font-style="italic" textLength="3.24" lengthAdjust="spacingAndGlyphs">j</text>
<text x="322.1" y="288.4" font-size="11.67" textLength="7.4" lengthAdjust="spacingAndGlyphs">+</text>
<text x="330.8" y="288.4" font-size="11.67" textLength="7.8" lengthAdjust="spacingAndGlyphs">1</text>
<text x="339.8" y="285" font-size="16.67" textLength="6.46" lengthAdjust="spacingAndGlyphs">/</text>
<text x="347.4" y="285" font-size="16.67" font-style="italic" textLength="10.18" lengthAdjust="spacingAndGlyphs">T</text>
<text x="357.6" y="288.4" font-size="11.67" font-style="italic" textLength="3.24" lengthAdjust="spacingAndGlyphs">j</text>
</svg>
</body></html>
